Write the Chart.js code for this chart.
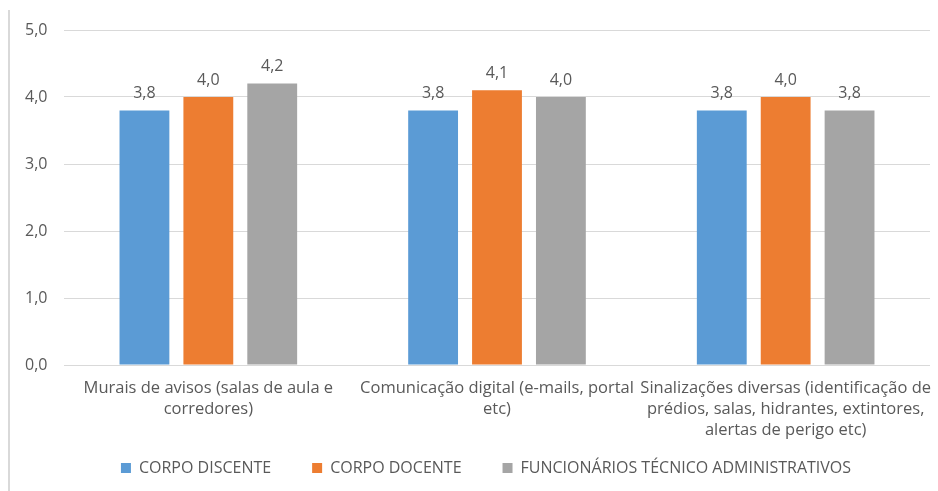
<!DOCTYPE html>
<html>
<head>
<meta charset="utf-8">
<script src="https://cdn.jsdelivr.net/npm/chart.js@4"></script>
<style>
  html, body { margin: 0; padding: 0; background: #fff; }
  #wrap { width: 938px; height: 491px; position: relative; }
</style>
</head>
<body>
<div id="wrap"><canvas id="chart" width="938" height="491"></canvas></div>
<script>
// data
const categories = [
  ["Murais de avisos (salas de aula e", "corredores)"],
  ["Comunicação digital (e-mails, portal", "etc)"],
  ["Sinalizações diversas (identificação de", "prédios, salas, hidrantes, extintores,", "alertas de perigo etc)"]
];
const seriesNames = ["CORPO DISCENTE", "CORPO DOCENTE", "FUNCIONÁRIOS TÉCNICO ADMINISTRATIVOS"];
const discente = [3.8, 3.8, 3.8];
const docente = [4.0, 4.1, 4.0];
const funcionarios = [4.2, 4.0, 3.8];
const yTicks = [0, 1, 2, 3, 4, 5];

const colors = ["#5B9BD5", "#ED7D31", "#A5A5A5"];
const textColor = "#595959";
const fontFamily = "'Open Sans', 'Liberation Sans', sans-serif";

const fmt = (v) => v.toFixed(1).replace(".", ",");

// value labels above each bar
const valueLabels = {
  id: "valueLabels",
  afterDatasetsDraw(chart) {
    const ctx = chart.ctx;
    ctx.save();
    ctx.font = "16px " + fontFamily;
    ctx.fillStyle = textColor;
    ctx.textAlign = "center";
    ctx.textBaseline = "middle";
    chart.data.datasets.forEach((ds, i) => {
      chart.getDatasetMeta(i).data.forEach((bar, j) => {
        ctx.fillText(fmt(ds.data[j]), bar.x, bar.y - 17);
      });
    });
    ctx.restore();
  }
};

// thin frame line on the left edge
const frameLine = {
  id: "frameLine",
  beforeDraw(chart) {
    const ctx = chart.ctx;
    ctx.save();
    ctx.fillStyle = "#D9D9D9";
    ctx.fillRect(8, 10, 2, chart.height - 10);
    ctx.restore();
  }
};

const datasets = [discente, docente, funcionarios].map((d, i) => ({
  label: seriesNames[i],
  data: d,
  backgroundColor: colors[i],
  categoryPercentage: 0.664,
  barPercentage: 0.78
}));

new Chart(document.getElementById("chart").getContext("2d"), {
  type: "bar",
  data: { labels: categories, datasets },
  options: {
    responsive: false,
    animation: false,
    layout: { padding: { left: 42, right: 8, top: 30, bottom: 5 } },
    plugins: {
      legend: {
        position: "bottom",
        labels: {
          boxWidth: 10,
          boxHeight: 10,
          padding: 13,
          color: textColor,
          font: { family: fontFamily, size: 16 },
          // wider gap between legend entries, like the original
          generateLabels(chart) {
            const items = Chart.defaults.plugins.legend.labels.generateLabels(chart);
            items.forEach((it, i) => {
              if (i < items.length - 1) it.text += "\u2003\u2002\u2005";
            });
            return items;
          }
        }
      },
      tooltip: { enabled: false }
    },
    scales: {
      x: {
        grid: { display: false, drawTicks: false },
        border: { display: false },
        ticks: {
          color: textColor,
          padding: 12.5,
          maxRotation: 0,
          autoSkip: false,
          font: { family: fontFamily, size: 16.5, lineHeight: 1.273 }
        },
        afterFit(scale) {
          scale.height = 82;
          scale.paddingLeft = 0;
          scale.paddingRight = 0;
        }
      },
      y: {
        min: 0,
        max: 5,
        afterBuildTicks(scale) { scale.ticks = yTicks.map((v) => ({ value: v })); },
        grid: { color: "#D9D9D9", lineWidth: 1, drawTicks: false },
        border: { display: false },
        ticks: {
          color: textColor,
          mirror: true,
          crossAlign: "far",
          padding: -39,
          font: { family: fontFamily, size: 16 },
          callback: (v) => fmt(v)
        },
        afterFit(scale) { scale.width = 22; }
      }
    }
  },
  plugins: [valueLabels, frameLine]
});
</script>
</body>
</html>
